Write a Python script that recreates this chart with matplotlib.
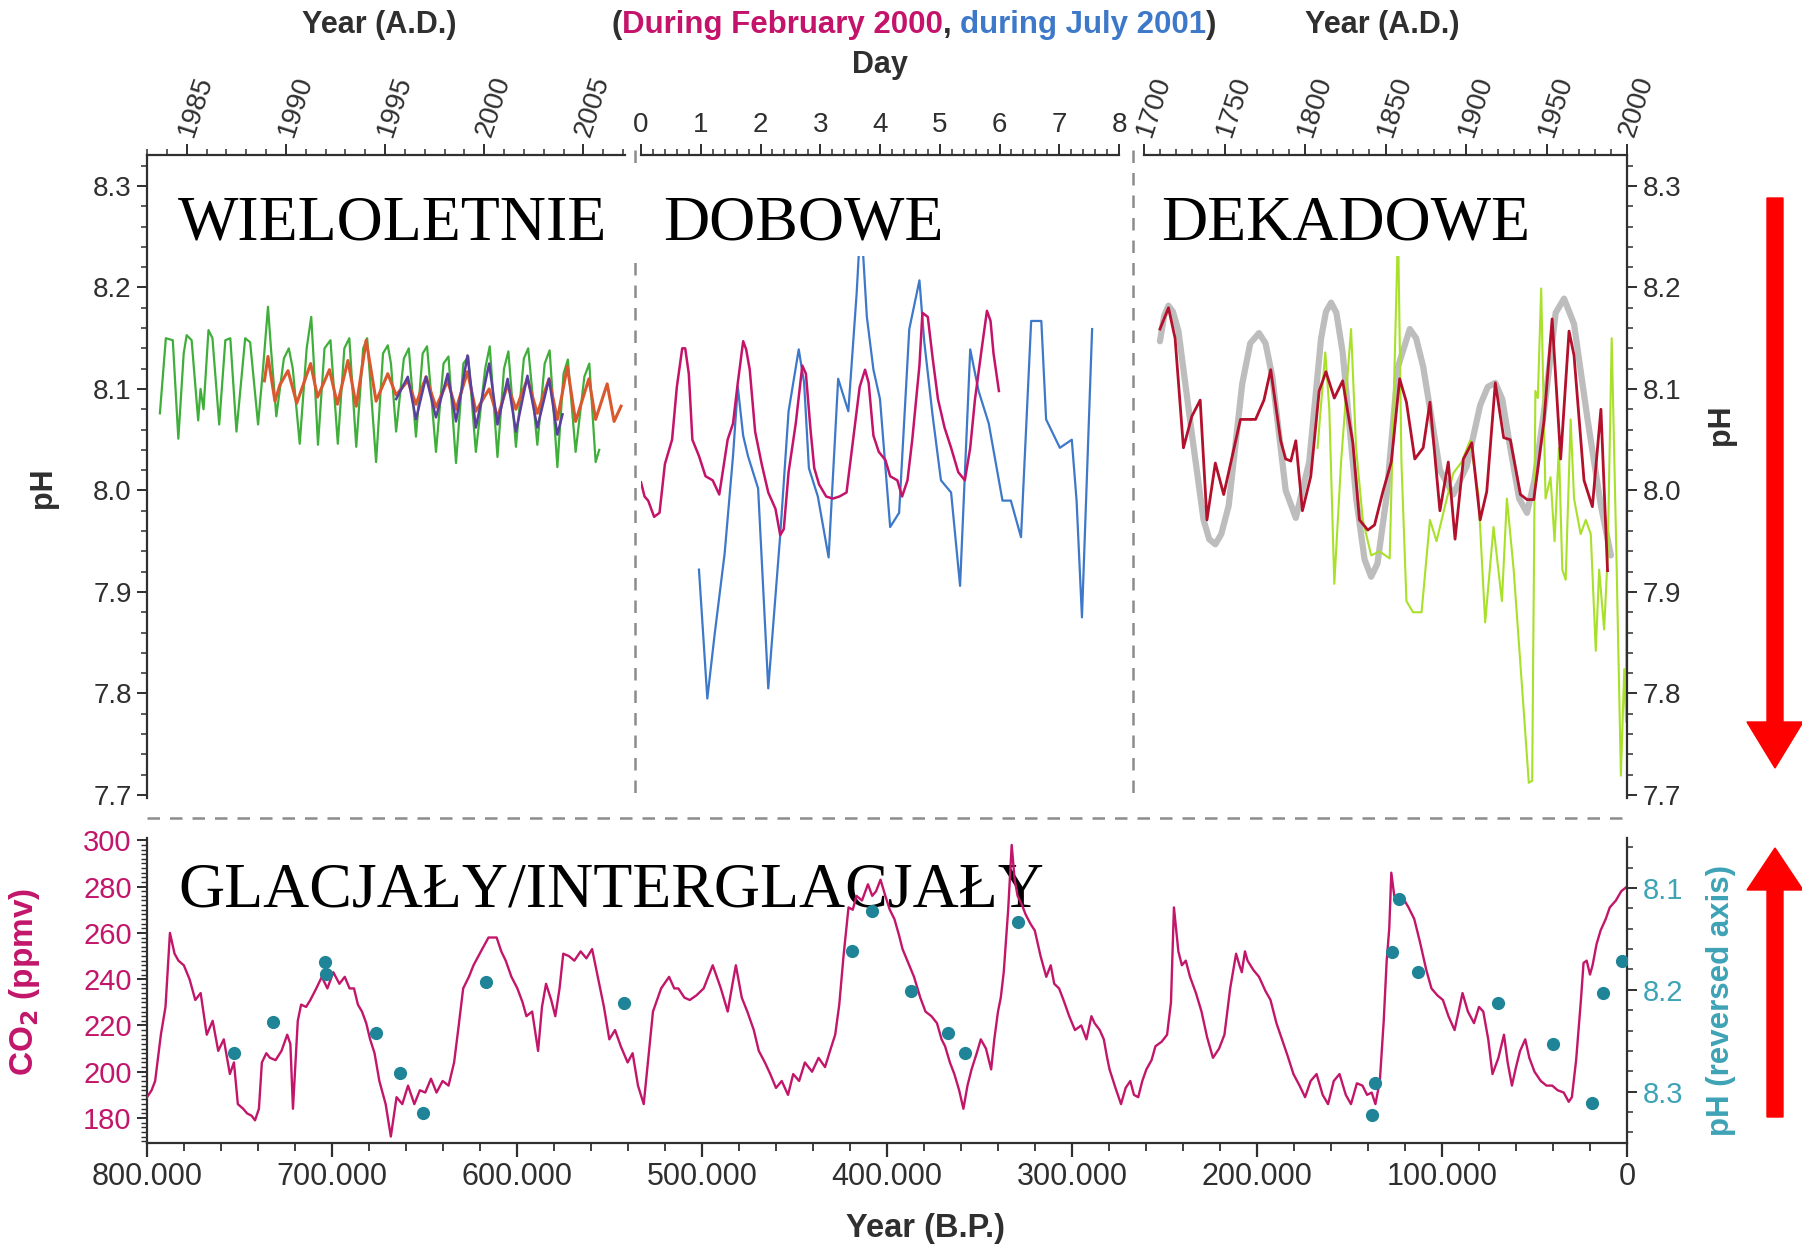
import matplotlib
matplotlib.use("Agg")
import matplotlib.pyplot as plt
from matplotlib.ticker import MultipleLocator, FuncFormatter, FormatStrFormatter
from matplotlib.patches import Rectangle, FancyArrow

plt.rcParams['font.family'] = ['Liberation Sans', 'DejaVu Sans']
plt.rcParams['axes.linewidth'] = 1.6

# ---------------- multi-year series (pH vs year A.D.) ----------------
green_year = [1983.65, 1983.95, 1984.30, 1984.58, 1984.85,
              1985.00, 1985.25, 1985.58, 1985.70, 1985.85,
              1986.10, 1986.30, 1986.64, 1986.95, 1987.20,
              1987.51, 1987.95, 1988.20, 1988.60, 1988.85,
              1989.10, 1989.25, 1989.52, 1989.90, 1990.15,
              1990.35, 1990.70, 1991.05, 1991.28, 1991.40,
              1991.62, 1991.95, 1992.25, 1992.62, 1992.95,
              1993.20, 1993.55, 1993.90, 1994.10, 1994.55,
              1994.90, 1995.14, 1995.30, 1995.56, 1995.95,
              1996.20, 1996.56, 1996.90, 1997.12, 1997.57,
              1997.95, 1998.20, 1998.58, 1998.95, 1999.20,
              1999.58, 2000.05, 2000.28, 2000.67, 2001.00,
              2001.22, 2001.60, 2002.00, 2002.22, 2002.68,
              2003.05, 2003.30, 2003.69, 2004.00, 2004.22,
              2004.61, 2005.05, 2005.30, 2005.62, 2005.80]
green_ph = [8.076, 8.150, 8.148, 8.051, 8.135,
            8.153, 8.148, 8.069, 8.100, 8.080,
            8.158, 8.150, 8.065, 8.148, 8.150,
            8.058, 8.150, 8.146, 8.065, 8.120,
            8.181, 8.140, 8.073, 8.130, 8.140,
            8.120, 8.046, 8.140, 8.171, 8.130,
            8.045, 8.140, 8.148, 8.046, 8.140,
            8.150, 8.043, 8.140, 8.150, 8.028,
            8.135, 8.143, 8.125, 8.058, 8.130,
            8.140, 8.053, 8.135, 8.142, 8.038,
            8.125, 8.132, 8.027, 8.125, 8.132,
            8.038, 8.120, 8.142, 8.033, 8.120,
            8.137, 8.043, 8.130, 8.140, 8.045,
            8.125, 8.138, 8.023, 8.115, 8.129,
            8.038, 8.112, 8.125, 8.028, 8.040]

orange_year = [1988.92, 1989.10, 1989.45, 1989.70, 1990.11, 1990.55, 1991.25, 1991.60,
               1992.20, 1992.60, 1993.13, 1993.55, 1994.05, 1994.55, 1995.14, 1995.56,
               1996.15, 1996.56, 1997.07, 1997.57, 1998.16, 1998.58, 1999.16, 1999.58,
               2000.25, 2000.67, 2001.18, 2001.60, 2002.18, 2002.68, 2003.27, 2003.69,
               2004.19, 2004.61, 2005.28, 2005.62, 2006.20, 2006.55, 2006.90]
orange_ph = [8.108, 8.132, 8.088, 8.104, 8.118, 8.086, 8.125, 8.092,
             8.119, 8.085, 8.128, 8.083, 8.148, 8.088, 8.115, 8.094,
             8.108, 8.085, 8.112, 8.082, 8.108, 8.080, 8.117, 8.078,
             8.100, 8.072, 8.104, 8.080, 8.110, 8.076, 8.110, 8.070,
             8.122, 8.068, 8.110, 8.070, 8.105, 8.068, 8.083]

purple_year = [1995.56, 1996.15, 1996.56, 1997.07, 1997.57, 1998.16, 1998.58, 1999.16, 1999.58,
               2000.25, 2000.67, 2001.18, 2001.60, 2002.18, 2002.68, 2003.27, 2003.69, 2003.95]
purple_ph = [8.090, 8.112, 8.070, 8.112, 8.072, 8.115, 8.068, 8.133, 8.062,
             8.125, 8.065, 8.110, 8.058, 8.113, 8.062, 8.110, 8.055, 8.075]

# ---------------- diurnal series (pH vs day) ----------------
feb_day = [0.00, 0.06, 0.12, 0.22, 0.31, 0.40, 0.52, 0.60, 0.69, 0.74,
           0.80, 0.86, 0.97, 1.08, 1.20, 1.31, 1.45, 1.54, 1.62, 1.71,
           1.76, 1.82, 1.91, 2.02, 2.13, 2.25, 2.33, 2.39, 2.47, 2.59,
           2.70, 2.76, 2.84, 2.90, 2.98, 3.10, 3.21, 3.32, 3.44, 3.55,
           3.66, 3.75, 3.81, 3.89, 3.98, 4.09, 4.17, 4.29, 4.37, 4.46,
           4.54, 4.66, 4.71, 4.80, 4.88, 4.97, 5.08, 5.19, 5.31, 5.42,
           5.51, 5.59, 5.71, 5.79, 5.85, 5.90, 5.99]
feb_ph = [8.008, 7.994, 7.990, 7.974, 7.978, 8.026, 8.050, 8.102, 8.140, 8.140,
          8.115, 8.050, 8.034, 8.014, 8.010, 7.996, 8.050, 8.066, 8.106, 8.147,
          8.139, 8.119, 8.058, 8.026, 7.998, 7.982, 7.956, 7.962, 8.018, 8.066,
          8.123, 8.115, 8.058, 8.022, 8.006, 7.994, 7.992, 7.994, 7.998, 8.050,
          8.102, 8.119, 8.106, 8.054, 8.038, 8.030, 8.014, 8.010, 7.994, 8.010,
          8.050, 8.123, 8.175, 8.171, 8.131, 8.090, 8.062, 8.042, 8.018, 8.010,
          8.042, 8.090, 8.143, 8.177, 8.167, 8.135, 8.098]

jul_day = [0.97, 1.11, 1.23, 1.40, 1.54, 1.62, 1.71, 1.79, 1.96, 2.13,
           2.33, 2.47, 2.64, 2.73, 2.81, 2.96, 3.14, 3.30, 3.47, 3.61,
           3.68, 3.78, 3.89, 4.00, 4.17, 4.32, 4.49, 4.66, 4.74, 4.88,
           5.02, 5.19, 5.34, 5.51, 5.65, 5.82, 6.05, 6.19, 6.36, 6.53,
           6.70, 6.78, 7.01, 7.21, 7.29, 7.38, 7.55]
jul_ph = [7.922, 7.795, 7.857, 7.938, 8.034, 8.102, 8.054, 8.034, 8.002, 7.805,
          7.956, 8.078, 8.139, 8.106, 8.022, 7.994, 7.934, 8.110, 8.078, 8.195,
          8.270, 8.171, 8.119, 8.090, 7.964, 7.978, 8.159, 8.207, 8.147, 8.074,
          8.010, 7.998, 7.906, 8.139, 8.098, 8.066, 7.990, 7.990, 7.954, 8.167,
          8.167, 8.070, 8.042, 8.050, 7.990, 7.875, 8.159]

# ---------------- decadal series (pH vs year A.D.) ----------------
smooth_year = [1709.9, 1712.5, 1715.2, 1718.0, 1721.4, 1729.7, 1737.0, 1740.5, 1744.3, 1748.0,
               1752.6, 1761.0, 1766.0, 1771.4, 1775.5, 1779.7, 1788.0, 1794.3, 1802.6, 1810.0,
               1813.0, 1816.2, 1819.5, 1823.4, 1831.8, 1837.0, 1841.1, 1845.0, 1850.5, 1857.8,
               1865.1, 1869.0, 1873.4, 1883.8, 1892.1, 1900.5, 1908.8, 1913.5, 1918.2, 1922.5,
               1927.5, 1933.0, 1937.9, 1942.5, 1948.4, 1955.7, 1960.9, 1967.1, 1975.5, 1983.8,
               1990.0]
smooth_ph = [8.147, 8.172, 8.182, 8.176, 8.157, 8.056, 7.971, 7.952, 7.947, 7.957,
             7.985, 8.105, 8.145, 8.155, 8.145, 8.112, 8.000, 7.973, 8.028, 8.150,
             8.176, 8.185, 8.175, 8.136, 7.992, 7.932, 7.915, 7.928, 7.992, 8.122,
             8.159, 8.150, 8.122, 8.020, 7.996, 8.024, 8.084, 8.102, 8.106, 8.090,
             8.042, 7.992, 7.978, 8.010, 8.077, 8.175, 8.189, 8.164, 8.070, 7.985,
             7.936]

coral_year = [1709.9, 1715.2, 1719.3, 1724.5, 1729.7, 1734.9, 1739.1, 1744.3, 1749.5, 1759.9,
              1769.3, 1774.5, 1778.7, 1784.9, 1788.0, 1791.2, 1794.3, 1798.4, 1803.6, 1808.8,
              1813.0, 1818.2, 1823.4, 1829.7, 1833.8, 1839.0, 1843.2, 1848.4, 1853.6, 1858.8,
              1863.0, 1868.2, 1873.4, 1877.6, 1883.8, 1889.0, 1893.2, 1898.4, 1903.6, 1908.8,
              1912.9, 1918.2, 1923.4, 1927.5, 1933.8, 1937.9, 1942.1, 1948.4, 1953.5, 1958.8,
              1964.0, 1967.1, 1973.3, 1978.5, 1983.8, 1987.9]
coral_ph = [8.159, 8.180, 8.150, 8.042, 8.073, 8.089, 7.971, 8.027, 7.996, 8.070,
            8.070, 8.089, 8.119, 8.049, 8.031, 8.029, 8.049, 7.980, 8.014, 8.098,
            8.117, 8.091, 8.108, 8.047, 7.971, 7.961, 7.966, 7.999, 8.028, 8.110,
            8.087, 8.031, 8.042, 8.087, 7.980, 8.028, 7.952, 8.031, 8.047, 7.971,
            7.999, 8.106, 8.052, 8.050, 7.996, 7.991, 7.991, 8.068, 8.169, 8.031,
            8.157, 8.133, 8.010, 7.984, 8.080, 7.921]

boron_year = [1807.8, 1812.6, 1815.1, 1818.2, 1822.4, 1828.6, 1831.7, 1835.9, 1841.1, 1846.3,
              1852.6, 1857.8, 1859.9, 1863.0, 1867.1, 1872.4, 1877.6, 1881.7, 1887.0, 1892.1,
              1897.3, 1902.5, 1907.7, 1911.9, 1917.1, 1922.3, 1925.4, 1929.6, 1935.9, 1939.0,
              1941.1, 1943.1, 1944.6, 1946.7, 1949.4, 1952.5, 1955.0, 1957.7, 1959.8, 1961.9,
              1965.0, 1967.1, 1971.2, 1974.4, 1977.5, 1980.6, 1982.7, 1985.8, 1988.0, 1990.5,
              1993.5, 1996.2, 1998.3, 1999.4, 1999.9, 2000.0]
boron_ph = [8.042, 8.136, 8.080, 7.908, 8.028, 8.159, 8.042, 7.971, 7.936, 7.940,
            7.933, 8.260, 8.028, 7.891, 7.880, 7.880, 7.971, 7.950, 7.985, 8.017,
            8.028, 8.049, 7.996, 7.870, 7.964, 7.891, 7.992, 7.922, 7.782, 7.712,
            7.714, 8.098, 8.091, 8.199, 7.992, 8.013, 7.950, 8.042, 7.922, 7.912,
            8.070, 7.992, 7.957, 7.971, 7.957, 7.842, 7.922, 7.863, 7.936, 8.150,
            7.930, 7.719, 7.824, 7.772, 8.049, 7.700]

# ---------------- glacial cycles: CO2 (ppmv) vs age (kyr B.P.) ----------------
co2_kyr = [
    800.0, 797.5, 795.6, 792.5, 790.0, 787.6, 785.1, 783.0, 780.1, 777.0,
    773.9, 771.0, 767.7, 764.5, 761.5, 758.5, 755.2, 753.0, 750.9, 748.0,
    745.9, 743.5, 741.6, 739.5, 737.9, 735.5, 733.5, 730.5, 727.3, 724.2,
    722.5, 721.1, 718.5, 716.7, 714.0, 711.7, 708.5, 705.5, 702.5, 699.3,
    696.0, 693.1, 690.5, 688.1, 686.0, 683.8, 681.5, 679.4, 677.0, 674.4,
    671.0, 668.2, 665.1, 662.0, 658.9, 655.5, 652.5, 649.6, 646.5, 643.5,
    640.2, 637.0, 634.0, 631.5, 629.1, 626.0, 623.5, 619.5, 615.4, 611.0,
    608.5, 606.1, 603.0, 599.8, 597.0, 594.9, 591.8, 588.6, 586.5, 584.3,
    581.5, 579.3, 577.0, 575.0, 572.0, 569.0, 565.6, 562.5, 559.4, 556.3,
    553.0, 550.1, 547.0, 543.9, 540.2, 537.5, 534.6, 531.5, 529.0, 526.5,
    522.1, 517.8, 515.0, 512.8, 509.5, 506.6, 503.0, 499.1, 494.2, 489.8,
    486.1, 483.5, 481.7, 478.5, 475.5, 472.0, 469.3, 466.0, 463.1, 460.0,
    456.9, 453.5, 450.7, 447.5, 444.4, 440.5, 437.0, 433.5, 430.8, 428.0,
    425.8, 423.5, 420.8, 418.5, 416.5, 413.5, 410.3, 408.0, 405.9, 403.5,
    400.9, 398.5, 396.0, 393.5, 391.6, 388.5, 385.4, 382.0, 379.2, 376.0,
    373.0, 370.5, 368.6, 366.0, 363.6, 361.0, 358.7, 356.5, 354.3, 351.5,
    349.3, 346.5, 343.7, 342.0, 340.0, 338.5, 336.9, 334.5, 332.6, 331.0,
    329.4, 327.0, 325.1, 322.5, 320.1, 317.0, 313.9, 311.5, 309.6, 307.0,
    304.6, 301.5, 298.4, 295.0, 292.2, 289.5, 287.8, 285.0, 282.8, 281.0,
    279.7, 276.5, 273.5, 271.0, 268.5, 266.5, 264.2, 262.0, 259.8, 257.0,
    254.9, 251.5, 248.6, 246.5, 244.9, 242.5, 240.6, 238.5, 236.2, 233.0,
    230.0, 227.0, 223.8, 220.5, 217.6, 214.5, 211.3, 209.5, 208.2, 206.5,
    205.1, 202.0, 198.9, 195.5, 192.7, 189.5, 186.5, 183.5, 180.3, 177.0,
    174.0, 171.0, 167.8, 164.5, 161.6, 158.5, 155.4, 152.0, 149.2, 146.0,
    143.0, 140.5, 138.0, 136.0, 133.6, 131.5, 129.9, 128.5, 127.4, 125.8,
    124.3, 121.0, 118.1, 115.0, 111.9, 108.5, 105.7, 102.5, 99.5, 96.5,
    93.2, 91.0, 88.9, 86.0, 82.7, 80.0, 77.7, 75.0, 72.7, 69.5,
    66.5, 64.5, 62.2, 60.0, 57.8, 55.0, 52.8, 50.0, 46.6, 43.5,
    40.4, 37.5, 34.2, 31.5, 29.8, 27.5, 24.9, 23.5, 21.8, 20.0,
    18.6, 16.5, 14.3, 11.5, 9.3, 6.0, 3.1, 0.0]
co2_ppmv = [
    189, 192, 196, 216, 228, 260, 251, 248, 246, 240,
    231, 234, 216, 222, 209, 214, 199, 204, 186, 184,
    182, 181, 179, 184, 204, 208, 206, 205, 209, 216,
    212, 184, 222, 229, 228, 231, 236, 241, 236, 243,
    238, 241, 236, 236, 229, 226, 221, 214, 208, 196,
    186, 172, 189, 186, 194, 186, 192, 191, 197, 191,
    196, 194, 204, 220, 236, 241, 246, 252, 258, 258,
    252, 248, 241, 236, 230, 224, 226, 209, 228, 238,
    231, 224, 236, 251, 250, 248, 252, 249, 253, 241,
    228, 214, 218, 211, 204, 208, 194, 186, 206, 226,
    236, 241, 236, 236, 232, 231, 233, 236, 246, 236,
    226, 238, 246, 232, 226, 218, 209, 204, 199, 193,
    196, 190, 199, 196, 204, 200, 206, 202, 209, 216,
    229, 250, 271, 270, 276, 274, 281, 276, 278, 283,
    276, 270, 266, 259, 253, 247, 241, 232, 226, 224,
    221, 214, 211, 204, 199, 192, 184, 194, 201, 208,
    214, 210, 201, 214, 226, 232, 243, 270, 298, 283,
    276, 272, 268, 264, 261, 250, 241, 246, 238, 236,
    231, 224, 218, 220, 214, 224, 221, 218, 214, 206,
    201, 193, 186, 193, 196, 190, 189, 196, 201, 205,
    211, 213, 216, 230, 271, 252, 246, 248, 241, 234,
    226, 215, 206, 210, 216, 236, 251, 246, 243, 252,
    248, 244, 241, 235, 231, 221, 214, 207, 199, 194,
    189, 196, 199, 190, 186, 196, 199, 190, 186, 195,
    194, 190, 191, 186, 196, 222, 248, 262, 286, 276,
    273, 275, 271, 266, 256, 244, 236, 233, 231, 224,
    218, 226, 234, 226, 221, 228, 226, 214, 199, 206,
    216, 204, 194, 202, 209, 214, 206, 200, 196, 194,
    194, 192, 191, 187, 189, 205, 231, 247, 248, 242,
    246, 255, 261, 266, 271, 274, 278, 280]

# reconstructed pH (reversed axis) vs age (kyr B.P.)
phrec_kyr = [753, 732, 704, 703, 676, 663, 651, 617, 542, 419, 408, 387, 367,
             358, 329, 136, 138, 127, 123, 113, 70, 40, 19, 13, 2.5]
phrec_val = [8.262, 8.232, 8.173, 8.184, 8.242, 8.282, 8.321, 8.192, 8.213, 8.162,
             8.123, 8.201, 8.242, 8.262, 8.133, 8.292, 8.323, 8.163, 8.111, 8.182,
             8.213, 8.253, 8.311, 8.203, 8.172]

# ---------------- styling ----------------
INK = '#2f2f2f'
GREEN = '#3fae3a'
ORANGE = '#d9582e'
PURPLE = '#5b3f9e'
MAG = '#c4136a'
BLUE = '#3d78c9'
GRAY = '#bdbdbd'
DARKRED = '#b3102c'
LIME = '#a8e02a'
CO2C = '#c2166a'
TEAL = '#1f8497'
TEAL_TXT = '#3ea3b6'
DIV = '#8c8c8c'

W, H, DPI = 1802, 1246, 100
fig = plt.figure(figsize=(W / DPI, H / DPI), dpi=DPI)
fig.patch.set_facecolor('white')


def px_axes(x0, y0, x1, y1):
    """Axes placed by pixel box (origin top-left)."""
    return fig.add_axes([x0 / W, 1 - y1 / H, (x1 - x0) / W, (y1 - y0) / H])


PH_LIM = (7.697, 8.3305)


def top_panel(x0, x1, xlim, major, minor, rotate):
    ax = px_axes(x0, 155, x1, 798)
    ax.set_xlim(*xlim)
    ax.set_ylim(*PH_LIM)
    ax.patch.set_alpha(0)
    for side in ('left', 'right', 'bottom'):
        ax.spines[side].set_visible(False)
    ax.spines['top'].set_color(INK)
    ax.xaxis.tick_top()
    ax.xaxis.set_major_locator(MultipleLocator(major))
    ax.xaxis.set_minor_locator(MultipleLocator(minor))
    ax.xaxis.set_major_formatter(FormatStrFormatter('%d'))
    if rotate:
        ax.tick_params(axis='x', which='major', length=8, width=1.4, color=INK,
                       labelsize=20, labelcolor=INK, pad=6, labelrotation=72)
    else:
        ax.tick_params(axis='x', which='major', length=8, width=1.4, color=INK,
                       labelsize=20, labelcolor=INK, pad=4)
    ax.tick_params(axis='x', which='minor', length=4, width=1.1, color=INK)
    ax.tick_params(axis='y', which='both', left=False, right=False,
                   labelleft=False, labelright=False)
    ax.yaxis.set_major_locator(MultipleLocator(0.1))
    ax.yaxis.set_minor_locator(MultipleLocator(0.02))
    ax.yaxis.set_major_formatter(FormatStrFormatter('%.1f'))
    if rotate:
        for lbl in ax.get_xticklabels():
            lbl.set_rotation_mode('anchor')
            lbl.set_ha('left')
            lbl.set_va('center')
    return ax


ax1 = top_panel(147, 625, (1983, 2007.1), 5, 1, True)
ax2 = top_panel(641, 1119, (0, 8), 1, 0.2, False)
ax3 = top_panel(1144, 1627, (1700, 2000), 50, 10, True)

ax1.spines['left'].set_visible(True)
ax1.spines['left'].set_color(INK)
ax1.tick_params(axis='y', which='major', left=True, labelleft=True, length=7, width=1.4,
                color=INK, labelsize=20, labelcolor=INK, pad=4)
ax1.tick_params(axis='y', which='minor', left=True, length=4, width=1.1, color=INK)

ax3.spines['right'].set_visible(True)
ax3.spines['right'].set_color(INK)
ax3.tick_params(axis='y', which='major', right=True, labelright=True, length=7, width=1.4,
                color=INK, labelsize=20, labelcolor=INK, pad=4)
ax3.tick_params(axis='y', which='minor', right=True, length=4, width=1.1, color=INK)

# multi-year records
ax1.plot(green_year, green_ph, color=GREEN, lw=1.6, zorder=2)
ax1.plot(orange_year, orange_ph, color=ORANGE, lw=2.2, zorder=3)
ax1.plot(purple_year, purple_ph, color=PURPLE, lw=1.8, zorder=4)

# diurnal records
ax2.plot(jul_day, jul_ph, color=BLUE, lw=1.6, zorder=2)
ax2.plot(feb_day, feb_ph, color=MAG, lw=1.8, zorder=3)

# decadal records
ax3.plot(smooth_year, smooth_ph, color=GRAY, lw=4.5, solid_joinstyle='round',
         solid_capstyle='round', zorder=1)
ax3.plot(boron_year, boron_ph, color=LIME, lw=1.5, zorder=2)
ax3.plot(coral_year, coral_ph, color=DARKRED, lw=2.0, zorder=3)

# ---------------- glacial / interglacial panel ----------------
axb = px_axes(147, 838, 1627, 1143)
axb.set_xlim(800, 0)
axb.set_ylim(169.2, 301)
axb.patch.set_alpha(0)
axb.spines['top'].set_visible(False)
axb.spines['right'].set_visible(False)
axb.spines['left'].set_color(INK)
axb.spines['bottom'].set_color(INK)
axb.xaxis.set_major_locator(MultipleLocator(100))
axb.xaxis.set_minor_locator(MultipleLocator(20))
axb.xaxis.set_major_formatter(FuncFormatter(lambda v, _: '0' if abs(v) < 1e-6 else f'{v:.0f}.000'))
axb.yaxis.set_major_locator(MultipleLocator(20))
axb.yaxis.set_minor_locator(MultipleLocator(2))
axb.tick_params(axis='x', which='major', length=10, width=1.6, color=INK,
                labelsize=22, labelcolor=INK, pad=4)
axb.tick_params(axis='x', which='minor', length=6, width=1.3, color=INK)
axb.tick_params(axis='y', which='major', length=7, width=1.4, color=INK,
                labelsize=21, labelcolor=CO2C, pad=4)
axb.tick_params(axis='y', which='minor', length=4, width=1.0, color=INK)

axb.text(0.021, 0.777, 'GLACJAŁY/INTERGLACJAŁY', transform=axb.transAxes,
         fontsize=46, family=['Liberation Serif', 'DejaVu Serif'], color='black',
         ha='left', va='baseline', zorder=1)
axb.plot(co2_kyr, co2_ppmv, color=CO2C, lw=1.7, zorder=3)

axp = axb.twinx()
axp.set_ylim(8.3505, 8.0508)
for side in ('left', 'top', 'bottom'):
    axp.spines[side].set_visible(False)
axp.spines['right'].set_color(INK)
axp.yaxis.set_major_locator(MultipleLocator(0.1))
axp.yaxis.set_minor_locator(MultipleLocator(0.02))
axp.yaxis.set_major_formatter(FormatStrFormatter('%.1f'))
axp.tick_params(axis='y', which='major', length=7, width=1.4, color=INK,
                labelsize=21, labelcolor=TEAL_TXT, pad=4)
axp.tick_params(axis='y', which='minor', length=4, width=1.1, color=INK)
axp.plot(phrec_kyr, phrec_val, 'o', color=TEAL, markersize=9.5, markeredgewidth=0, zorder=4)

# ---------------- overlay: dividers, captions, arrows ----------------
axo = fig.add_axes([0, 0, 1, 1])
axo.set_xlim(0, W)
axo.set_ylim(H, 0)
axo.axis('off')
axo.patch.set_alpha(0)

dash = (0, (5, 4))
axo.plot([635, 635], [150, 800], color=DIV, lw=1.8, ls=dash, zorder=2)
axo.plot([1133, 1133], [150, 800], color=DIV, lw=1.8, ls=dash, zorder=2)
axo.plot([147, 1627], [818, 818], color=DIV, lw=1.8, ls=dash, zorder=2)

for (rx0, ry0, rx1, ry1) in [(160, 166, 626, 256), (630, 166, 975, 256), (1150, 166, 1548, 256)]:
    axo.add_patch(Rectangle((rx0, ry0), rx1 - rx0, ry1 - ry0, facecolor='white',
                            edgecolor='none', zorder=4))

serif = ['Liberation Serif', 'DejaVu Serif']
for x, word in [(178, 'WIELOLETNIE'), (663, 'DOBOWE'), (1161, 'DEKADOWE')]:
    axo.text(x, 239, word, fontsize=46, family=serif, color='black',
             ha='left', va='baseline', zorder=5)

lab = dict(fontsize=22, fontweight='bold', color=INK, ha='center', va='center')
axo.text(379, 25, 'Year (A.D.)', **lab)
axo.text(1382, 25, 'Year (A.D.)', **lab)
axo.text(880, 65, 'Day', **lab)
axo.text(925, 1228, 'Year (B.P.)', **{**lab, 'fontsize': 23.5})
axo.text(43, 488, 'pH', rotation=90, **lab)
axo.text(1721, 425, 'pH', rotation=90, **lab)
axo.text(25, 982, r'CO$_\mathbf{2}$ (ppmv)', rotation=90,
         **{**lab, 'color': CO2C, 'fontsize': 24})
axo.text(1721, 1000, 'pH (reversed axis)', rotation=90,
         **{**lab, 'color': TEAL_TXT, 'fontsize': 22.5})

# two-colour caption above the diurnal panel
renderer = fig.canvas.get_renderer()
cap_kw = dict(fontsize=22.5, fontweight='bold', ha='left', va='center')
pieces = [('(', INK), ('During February 2000', MAG), (',', INK),
          ('during July 2001', BLUE), (')', INK)]
gap_after = [0, 0, 1, 0, 0]


def text_width(s):
    t = axo.text(0, 0, s, **cap_kw)
    w = t.get_window_extent(renderer).width
    t.remove()
    return w


space = text_width('a a') - text_width('aa')
widths = [text_width(s) for s, _ in pieces]
total = sum(widths) + space * sum(gap_after)
x = 914 - total / 2
for (s, c), w, g in zip(pieces, widths, gap_after):
    axo.text(x, 25, s, color=c, **cap_kw)
    x += w + g * space

# direction arrows
axo.add_patch(FancyArrow(1775, 198, 0, 570, width=16, head_width=56, head_length=46,
                         length_includes_head=True, color='#ff0000', zorder=5))
axo.add_patch(FancyArrow(1775, 1117, 0, -269, width=16, head_width=56, head_length=42,
                         length_includes_head=True, color='#ff0000', zorder=5))

fig.savefig('out.png', dpi=DPI, facecolor='white')
